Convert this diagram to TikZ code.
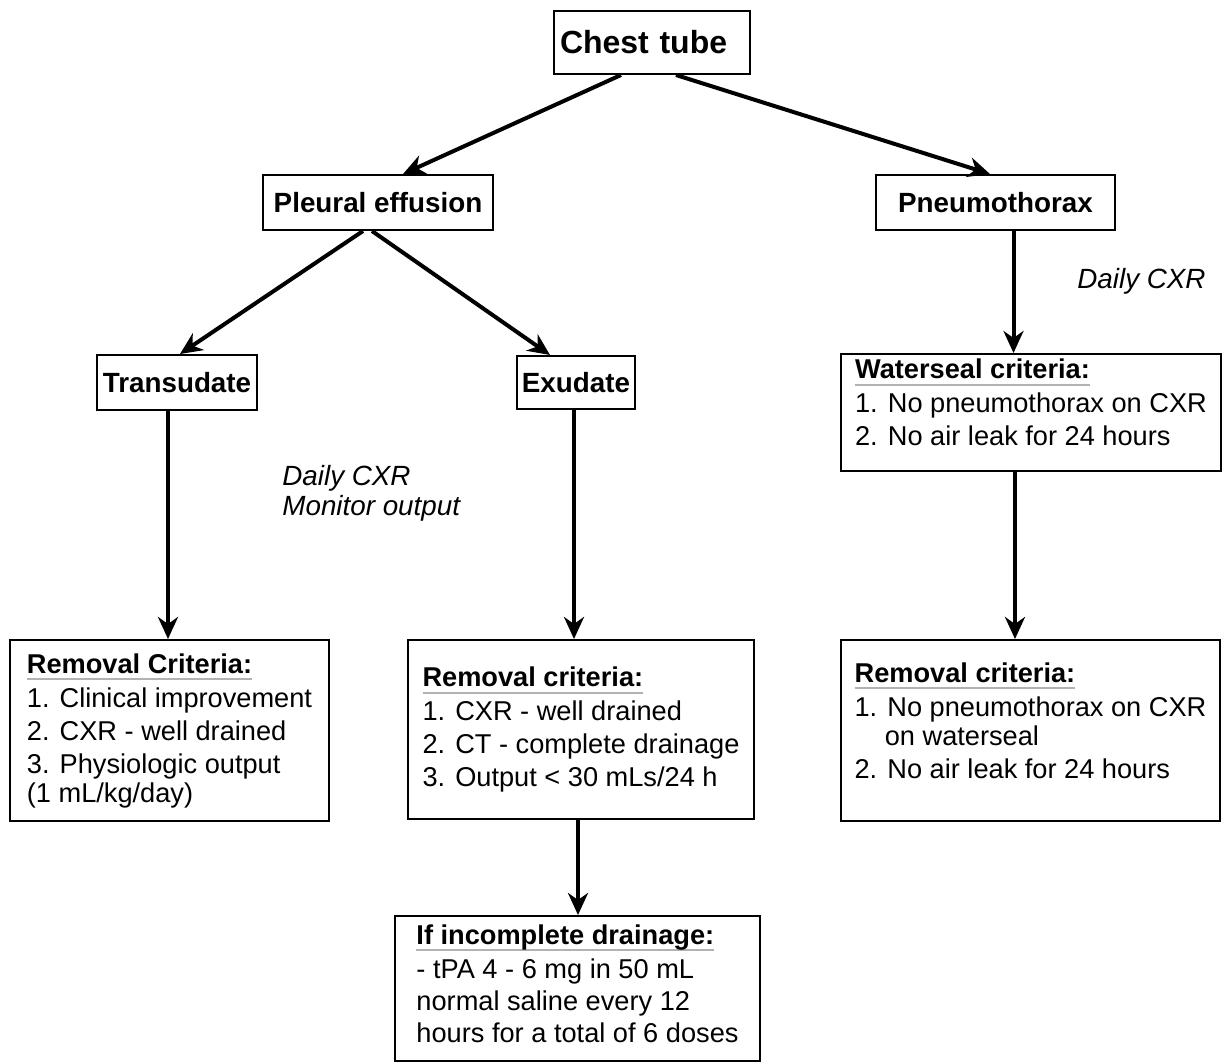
\documentclass[tikz,border=0pt]{standalone}
\usepackage{fontspec}
\setmainfont{Liberation Sans}
\usetikzlibrary{arrows.meta}

% titre souligné en gris dans les cadres
\newcommand{\entete}[1]{\setbox0=\hbox{\bfseries #1}\rlap{\color{gray!60}\rule[-3.5pt]{\wd0}{1pt}}\box0}

\begin{document}
\begin{tikzpicture}[x=0.5pt, y=-0.5pt]
% Définition des styles
    \tikzstyle{titre} = [rectangle, draw, line width=1pt, inner sep=0pt, font=\fontsize{13.9}{16}\selectfont\bfseries]
    \tikzstyle{criteres} = [rectangle, draw, line width=1pt, inner sep=0pt, align=left, anchor=north west, font=\fontsize{13.6}{14.5}\selectfont]
    \tikzstyle{note} = [inner sep=0pt, align=left, font=\fontsize{13.9}{15}\selectfont\itshape]
    \tikzstyle{ligne} = [draw, line width=2pt, -{Stealth[length=11pt, width=10pt, inset=3.5pt]}]

    \useasboundingbox (0,0) rectangle (1223,1062);

    % Nœuds principaux
    \node [titre, anchor=north west, minimum width=98pt, minimum height=31.5pt, inner xsep=3pt, text width=92pt, align=left, font=\fontsize{16}{18}\selectfont\bfseries] (chest) at (553,10) {Chest tube};
    \node [titre, minimum width=115pt, minimum height=27.5pt] (pleural) at (378,202.5) {Pleural effusion};
    \node [titre, minimum width=119.5pt, minimum height=27.5pt] (pneumo) at (995.5,202.5) {Pneumothorax};
    \node [titre, minimum width=80pt, minimum height=27.5pt] (transudat) at (177,382.5) {Transudate};
    \node [titre, minimum width=59pt, minimum height=26.5pt] (exudat) at (576,382.5) {Exudate};

    % Critères
    \node [criteres, minimum width=190pt, minimum height=58.5pt] (waterseal) at (840,353) {\entete{Waterseal criteria:}\\[2.5pt] 1. No pneumothorax on CXR\\[2pt] 2. No air leak for 24 hours\\[-4.5pt]};
    \node [criteres, minimum width=159.5pt, minimum height=90.5pt] (retraittrans) at (9,639) {\entete{Removal Criteria:}\\[2.5pt] 1. Clinical improvement\\[2pt] 2. CXR - well drained\\[2pt] 3. Physiologic output\\ (1 mL/kg/day)};
    \node [criteres, minimum width=173pt, minimum height=89.5pt] (retraitexud) at (407,639) {\entete{Removal criteria:}\\[2.5pt] 1. CXR - well drained\\[2pt] 2. CT - complete drainage\\[2pt] 3. Output < 30 mLs/24 h};
    \node [criteres, minimum width=189.5pt, minimum height=90.5pt] (retraitpneumo) at (840,639) {\entete{Removal criteria:}\\[2.5pt] 1. No pneumothorax on CXR\\ \hphantom{1.~}on waterseal\\[2pt] 2. No air leak for 24 hours\\[-4.5pt]};
    \node [criteres, minimum width=182.5pt, minimum height=72.5pt] (incomplet) at (394,915) {\entete{If incomplete drainage:}\\[2.5pt] - tPA 4 - 6 mg in 50 mL\\[1.5pt] normal saline every 12\\[1.5pt] hours for a total of 6 doses\\[-9.5pt]};

    % Annotations
    \node [note, anchor=base west] (cxrpneumo) at (1077,288) {Daily CXR};
    \node [note, anchor=base west] (cxrtrans) at (282,515) {Daily CXR\\Monitor output};

    % Connexions
    \path [ligne] ([xshift=-15.5pt]chest.south) -- ([xshift=12.5pt]pleural.north);
    \path [ligne] ([xshift=12pt]chest.south) -- ([xshift=-2.75pt]pneumo.north);
    \path [ligne] ([xshift=-7.5pt]pleural.south) -- ([xshift=1.5pt]transudat.north);
    \path [ligne] ([xshift=-3pt]pleural.south) -- ([xshift=-13pt]exudat.north);
    \path [ligne] ([xshift=-4.5pt]transudat.south) -- ([xshift=-4.5pt]transudat.south |- retraittrans.north);
    \path [ligne] ([xshift=-1pt]exudat.south) -- ([xshift=-1pt]exudat.south |- retraitexud.north);
    \path [ligne] ([xshift=9pt]pneumo.south) -- ([xshift=9pt]pneumo.south |- waterseal.north);
    \path [ligne] ([xshift=-8pt]waterseal.south) -- ([xshift=-8pt]waterseal.south |- retraitpneumo.north);
    \path [ligne] ([xshift=-1.5pt]retraitexud.south) -- ([xshift=-1.5pt]retraitexud.south |- incomplet.north);
\end{tikzpicture}
\end{document}
